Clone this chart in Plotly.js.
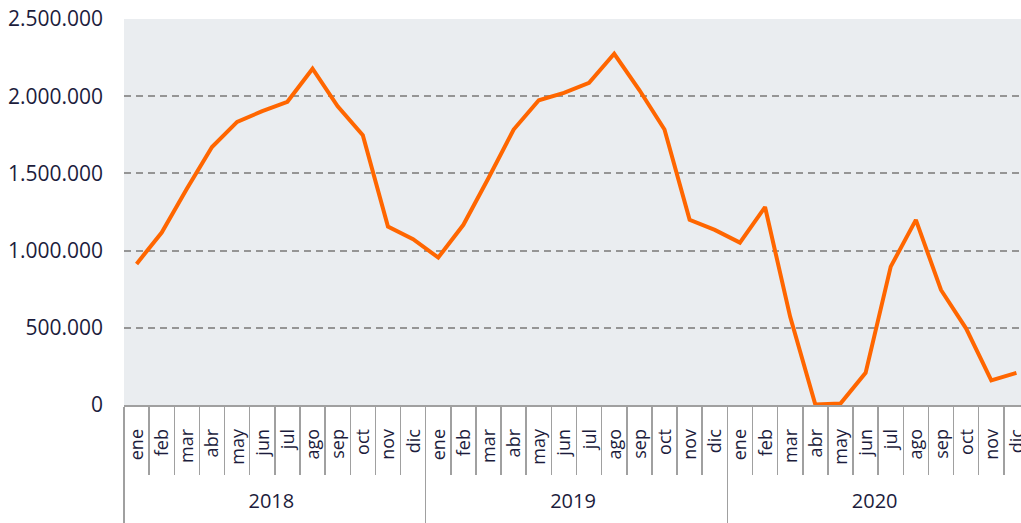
<!DOCTYPE html>
<html>
<head>
<meta charset="utf-8">
<script src="https://cdn.plot.ly/plotly-3.0.1.min.js"></script>
<style>
html, body { margin: 0; padding: 0; overflow: hidden; background: #ffffff; }
#chart { width: 1030px; height: 523px; }
</style>
</head>
<body>
<div id="chart"></div>
<script>
const years = ["2018", "2019", "2020"];
const months = ["ene", "feb", "mar", "abr", "may", "jun", "jul", "ago", "sep", "oct", "nov", "dic"];
const values2018 = [914000, 1117000, 1400000, 1671000, 1834000, 1903000, 1964000, 2178000, 1935000, 1747000, 1156000, 1074000];
const values2019 = [955000, 1167000, 1470000, 1784000, 1974000, 2022000, 2087000, 2275000, 2040000, 1784000, 1199000, 1134000];
const values2020 = [1052000, 1282000, 571000, 3000, 9000, 208000, 896000, 1199000, 745000, 495000, 160000, 208000];
const yTickVals = [0, 500000, 1000000, 1500000, 2000000, 2500000];
const yTickText = ["0", "500.000", "1.000.000", "1.500.000", "2.000.000", "2.500.000"];

// label padding/styling so the year row sits below the month row (layout only)
const monthPad = "\u00a0\u00a0\u00a0\u00a0";
const yearTail = "<br>\u00a0";
const monthLabel = m => '<span style="font-size:18px">' + monthPad + m + '</span>';

const seriesByYear = [values2018, values2019, values2020];
const xYear = [], xMonth = [], yVal = [];
years.forEach((yr, i) => {
  months.forEach((m, j) => {
    xYear.push(yr + yearTail);
    xMonth.push(monthLabel(m));
    yVal.push(seriesByYear[i][j]);
  });
});

const fontFam = "Open Sans, sans-serif";
const textColor = "#1c1c3c";

const trace = {
  type: "scatter",
  mode: "lines",
  x: [xYear, xMonth],
  y: yVal,
  line: { color: "#ff6600", width: 4 },
  hoverinfo: "skip"
};

const layout = {
  width: 1030,
  height: 523,
  margin: { l: 124, r: 1, t: 19, b: 118 },
  paper_bgcolor: "#ffffff",
  plot_bgcolor: "#eaedf0",
  showlegend: false,
  xaxis: {
    type: "multicategory",
    range: [-0.5, xYear.length - 0.5],
    autorange: false,
    showgrid: false,
    zeroline: false,
    showline: true,
    linecolor: "#a0a0a0",
    linewidth: 2,
    ticks: "outside",
    tickson: "boundaries",
    ticklen: 68,
    tickcolor: "#a0a0a0",
    tickwidth: 1.5,
    ticklabelstandoff: 14,
    tickangle: -90,
    tickfont: { family: fontFam, size: 20, color: textColor },
    showdividers: true,
    dividercolor: "#a0a0a0",
    dividerwidth: 1.5
  },
  yaxis: {
    range: [0, 2500000],
    tickvals: yTickVals,
    ticktext: yTickText,
    showgrid: true,
    gridcolor: "#959595",
    gridwidth: 2,
    griddash: "7px,5px",
    zeroline: false,
    showline: false,
    ticks: "",
    ticklabelstandoff: 20,
    tickfont: { family: fontFam, size: 21, color: textColor }
  }
};

Plotly.newPlot("chart", [trace], layout, { displayModeBar: false, staticPlot: true });
</script>
</body>
</html>
